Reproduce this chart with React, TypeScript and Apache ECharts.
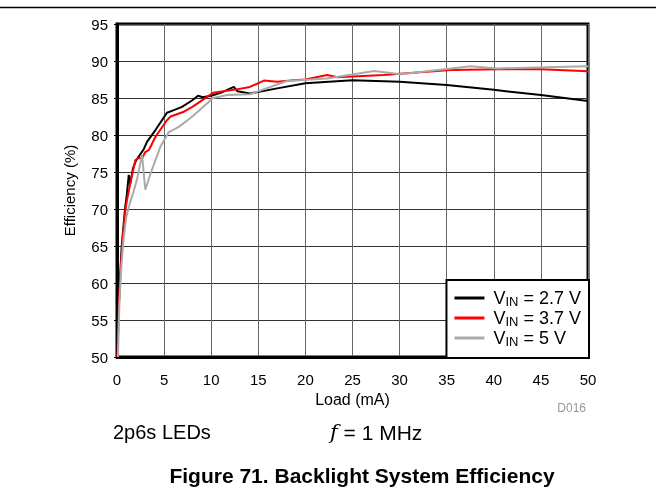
import React, { useEffect, useRef } from "react";
import * as echarts from "echarts";

const xTicks = [0, 5, 10, 15, 20, 25, 30, 35, 40, 45, 50];
const yTicks = [50, 55, 60, 65, 70, 75, 80, 85, 90, 95];

const seriesNames = ["2.7", "3.7", "5"];

const vin27: [number, number][] = [
  [0.05, 50], [0.15, 56], [0.3, 60], [0.5, 65], [0.85, 70], [1.05, 72], [1.25, 74.6],
  [1.4, 73.4], [1.7, 75.5], [2.0, 76.5], [2.8, 78.0], [3.2, 79.1], [4.1, 80.7],
  [5.3, 83.0], [5.9, 83.3], [6.9, 83.8], [8.0, 84.7], [8.6, 85.3], [9.1, 85.1],
  [10.0, 85.3], [11.0, 85.7], [12.4, 86.5], [12.8, 85.9], [14.1, 85.6], [17, 86.3],
  [20, 87.0], [25, 87.4], [30, 87.2], [35, 86.75], [40, 86.1], [45, 85.4], [50, 84.6],
];

const vin37: [number, number][] = [
  [0.05, 50], [0.2, 57], [0.35, 61], [0.6, 66], [0.9, 70], [1.06, 71.2], [1.5, 74],
  [1.95, 76.6], [2.3, 76.9], [2.66, 76.85], [3.0, 77.7], [3.4, 78.0], [4.1, 79.8],
  [5.3, 82.0], [5.7, 82.5], [7.1, 83.15], [8.0, 83.8], [10.2, 85.7], [12.4, 86.1],
  [14.1, 86.5], [15.6, 87.35], [17, 87.2], [18.75, 87.4], [20, 87.5], [22.3, 88.1],
  [23.4, 87.8], [28.3, 88.1], [35.4, 88.8], [40.7, 88.9], [45, 88.9], [50, 88.6],
];

const vin5: [number, number][] = [
  [0.1, 50], [0.25, 57], [0.45, 62], [0.7, 66], [1.0, 69], [1.41, 71.0], [1.6, 71.7],
  [2.1, 73.9], [2.66, 77.3], [3.0, 72.6], [3.7, 75.3], [4.6, 78.4], [5.5, 80.4],
  [6.56, 81.1], [8.0, 82.5], [10.2, 85.0], [11.7, 85.4], [14.1, 85.5], [18.05, 87.3],
  [22.3, 87.65], [27.3, 88.65], [30.1, 88.2], [37.55, 89.3], [40.4, 89.0],
  [45.35, 89.15], [50, 89.3],
];

const FONT = "'Liberation Sans', Arial, sans-serif";

export default function App() {
  const ref = useRef<HTMLDivElement>(null);
  useEffect(() => {
    if (!ref.current) return;
    const chart = echarts.init(ref.current, null, { renderer: "svg" });
    const colors = ["#000000", "#ff0000", "#aaaaaa"];
    const datasets = [vin27, vin37, vin5];
    chart.setOption({
      animation: false,
      textStyle: { fontFamily: FONT },
      grid: {
        left: 117, top: 24, right: 68, bottom: 147,
        show: true, borderColor: "#000", borderWidth: 3,
      },
      xAxis: {
        type: "value", min: xTicks[0], max: xTicks[xTicks.length - 1], interval: 5,
        name: "Load (mA)", nameLocation: "middle", nameGap: 32,
        nameTextStyle: { fontSize: 16, color: "#000", fontFamily: FONT },
        axisLine: { show: true, lineStyle: { color: "#000", width: 3 } },
        axisTick: { show: false },
        axisLabel: { fontSize: 15, color: "#000", margin: 15, fontFamily: FONT },
        splitLine: { show: true, lineStyle: { color: "#666", width: 1 } },
      },
      yAxis: {
        type: "value", min: yTicks[0], max: yTicks[yTicks.length - 1], interval: 5,
        name: "Efficiency (%)", nameLocation: "middle", nameGap: 40,
        nameTextStyle: { fontSize: 15, color: "#000", fontFamily: FONT },
        axisLine: { show: true, lineStyle: { color: "#000", width: 3 } },
        axisTick: { show: true, length: 3, lineStyle: { color: "#000" } },
        axisLabel: { fontSize: 15, color: "#000", margin: 9, fontFamily: FONT },
        splitLine: { show: true, lineStyle: { color: "#333", width: 1 } },
      },
      legend: {
        orient: "vertical",
        right: 67, bottom: 146,
        backgroundColor: "#fff",
        borderColor: "#000", borderWidth: 2,
        padding: [8, 8, 10, 8],
        itemWidth: 30, itemHeight: 3, itemGap: 0,
        icon: "rect",
        data: seriesNames.map((n) => "VIN = " + n + " V"),
        formatter: (name: string) => {
          const v = name.replace("VIN = ", "");
          return "{a|V}{s|IN}{a| = " + v + "}";
        },
        textStyle: {
          padding: [0, 0, 0, 4],
          rich: {
            a: { fontSize: 18, color: "#000", fontFamily: FONT, lineHeight: 20 },
            s: { fontSize: 13, color: "#000", fontFamily: FONT, lineHeight: 20, padding: [7, 0, 0, 0] },
          },
        },
      },
      series: datasets.map((d, i) => ({
        name: "VIN = " + seriesNames[i] + " V",
        type: "line",
        data: d,
        showSymbol: false,
        symbol: "none",
        color: colors[i],
        lineStyle: { color: colors[i], width: 2 },
        z: 2 + i,
      })),
      graphic: [
        { type: "line", shape: { x1: 0, y1: 7.5, x2: 656, y2: 7.5 }, style: { stroke: "#000", lineWidth: 1.5 } },
        { type: "text", x: 586, y: 408, style: { text: "D016", fill: "#999", fontSize: 12, fontFamily: FONT, align: "right", verticalAlign: "middle" } },
        { type: "text", x: 113, y: 432, style: { text: "2p6s LEDs", fill: "#000", fontSize: 20, fontFamily: FONT, verticalAlign: "middle" } },
        {
          type: "text", x: 330, y: 432,
          style: {
            text: "{i|f} = 1 MHz", fill: "#000", fontSize: 21, fontFamily: FONT, verticalAlign: "middle",
            rich: { i: { fontStyle: "italic", fontSize: 21, fontFamily: "'DejaVu Serif', serif" } },
          },
        },
        { type: "text", x: 362, y: 475, style: { text: "Figure 71. Backlight System Efficiency", fill: "#000", fontSize: 21, fontWeight: "bold", fontFamily: FONT, align: "center", verticalAlign: "middle" } },
      ],
    });
    return () => chart.dispose();
  }, []);
  return <div ref={ref} style={{ position: "fixed", left: 0, top: 0, width: 656, height: 504 }} />;
}
